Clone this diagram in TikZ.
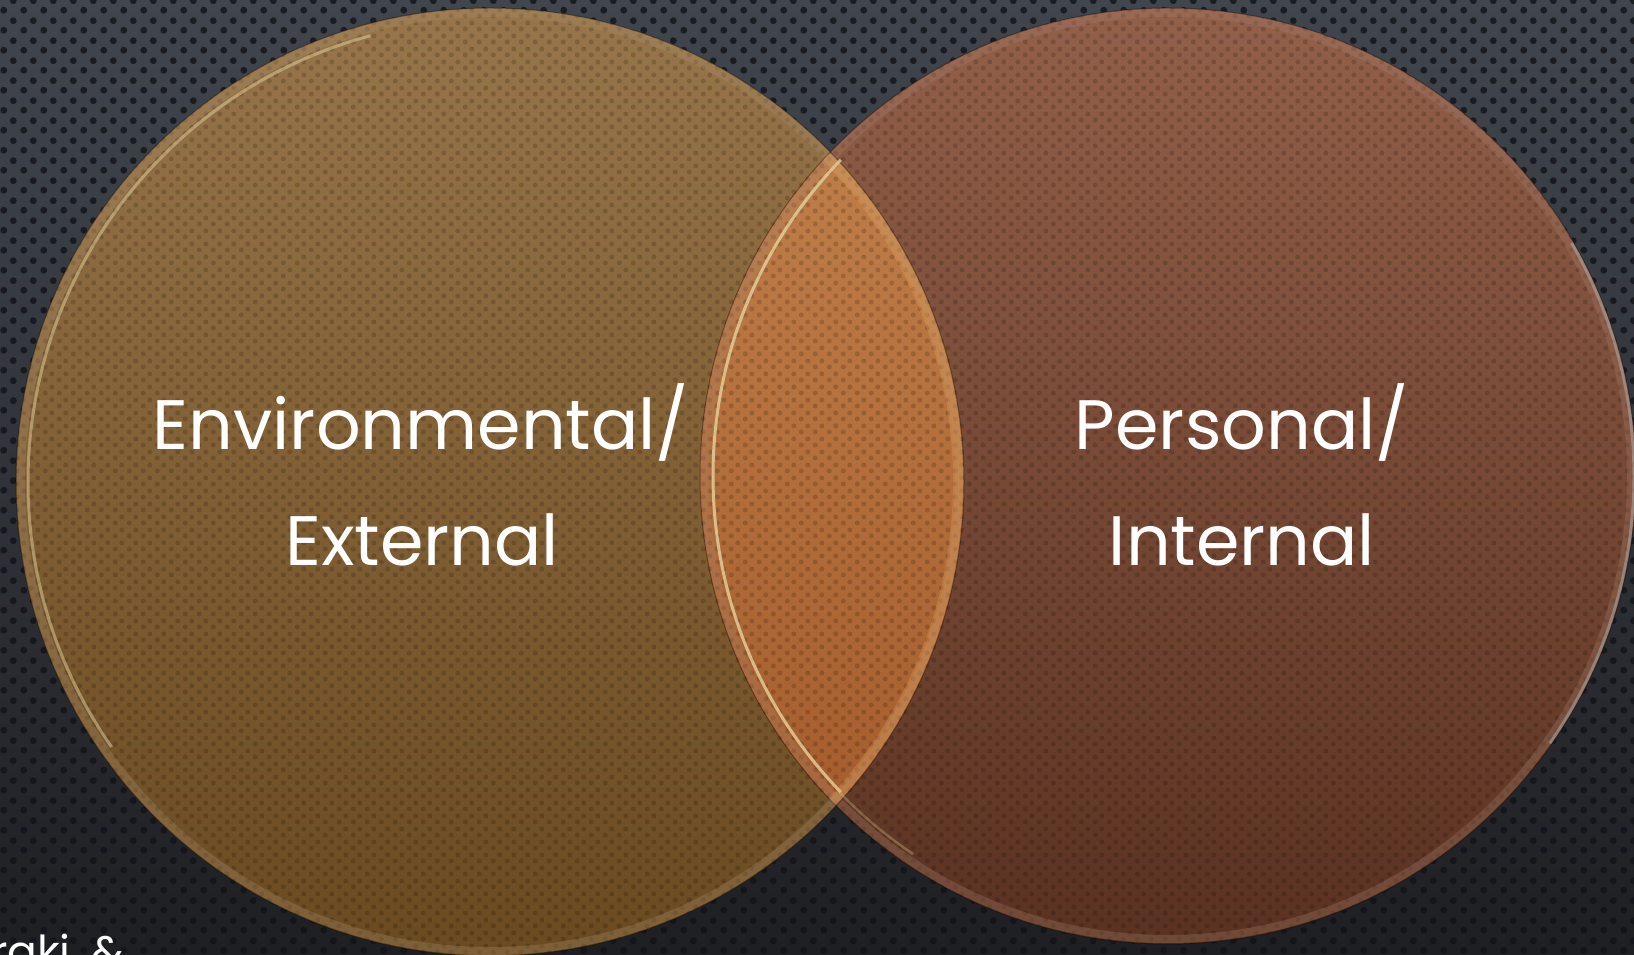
\documentclass[tikz,border=0pt]{standalone}
\usepackage{fontspec}
\setmainfont{Poppins}
\usetikzlibrary{patterns.meta}

\definecolor{bgtop}{HTML}{41464E}
\definecolor{bgbot}{HTML}{1E1F23}
\definecolor{holecol}{HTML}{111318}
\definecolor{envtop}{HTML}{98754A}
\definecolor{envbot}{HTML}{6A4A21}
\definecolor{pertop}{HTML}{93604A}
\definecolor{perbot}{HTML}{5A3221}
\definecolor{mixtop}{HTML}{BF7E49}
\definecolor{mixbot}{HTML}{A65D2D}
\definecolor{cream}{HTML}{E2D3A0}

% perforated metal backdrop
\tikzdeclarepattern{
  name=perforation,
  type=uncolored,
  bounding box={(0pt,0pt) and (20pt,20pt)},
  tile size={(20pt,20pt)},
  code={
    \fill (5pt,5pt) circle (3.6pt);
    \fill (15pt,15pt) circle (3.6pt);
  }
}
% texture inside the discs
\tikzdeclarepattern{
  name=discdots,
  type=uncolored,
  bounding box={(0pt,0pt) and (14pt,13pt)},
  tile size={(14pt,13pt)},
  code={
    \fill (3.5pt,3.25pt) circle (2.7pt);
    \fill (10.5pt,9.75pt) circle (2.7pt);
  }
}

\tikzset{
  lbl/.style={anchor=base, text=white, inner sep=0pt,
    font=\fontsize{70}{84}\selectfont},
  rim/.style={line width=8pt, opacity=0.3},
  texture/.style={pattern=discdots, pattern color=black, fill opacity=0.16},
}

\begin{document}
\begin{tikzpicture}[x=1pt,y=1pt]
  \useasboundingbox (0,0) rectangle (1634,955);
  \clip (0,0) rectangle (1634,955);

  % backdrop
  \shade[top color=bgtop, bottom color=bgbot] (0,0) rectangle (1634,955);
  \fill[pattern=perforation, pattern color=holecol, fill opacity=0.8] (0,0) rectangle (1634,955);

  % centres of the two discs
  \coordinate (cl) at (490,473);
  \coordinate (cr) at (1168,479);

  % the two discs with their texture
  \shade[top color=envtop, bottom color=envbot] (cl) circle (474);
  \shade[top color=pertop, bottom color=perbot] (cr) circle (468);
  \fill[texture] (cl) circle (474);
  \fill[texture] (cr) circle (468);

  % overlap, textured once
  \begin{scope}
    \clip (cl) circle (474);
    \clip (cr) circle (468);
    \shade[top color=mixtop, bottom color=mixbot] (700,146) rectangle (964,800);
    \fill[texture] (700,146) rectangle (964,800);
  \end{scope}

  % bevelled rims
  \draw[rim, draw=envtop!80!white] (cl) circle (469);
  \draw[rim, draw=pertop!80!white] (cr) circle (463);
  \draw[line width=1pt, draw=black, opacity=0.35] (cl) circle (474);
  \draw[line width=1pt, draw=black, opacity=0.35] (cr) circle (468);

  % highlights along the rims
  \draw[line width=3pt, draw=cream, opacity=0.5]
    ([shift={(105:462)}]cl) arc[start angle=105, end angle=215, radius=462];
  \draw[line width=3pt, draw=cream, opacity=0.8]
    ([shift={(136:455)}]cr) arc[start angle=136, end angle=224, radius=455];
  \draw[line width=2.5pt, draw=cream, opacity=0.3]
    ([shift={(224:456)}]cr) arc[start angle=224, end angle=236, radius=456];
  \draw[line width=3pt, draw=gray!60!white, opacity=0.5]
    ([shift={(-35:466)}]cr) arc[start angle=-35, end angle=30, radius=466];
  \begin{scope}
    \clip (cr) circle (468);
    \draw[line width=10pt, draw=orange!60!white, opacity=0.22] (cl) circle (468);
  \end{scope}

  % labels
  \node[lbl] (env1) at (421,505) {Environmental/};
  \node[lbl] (env2) at (422,389) {External};
  \node[lbl] (per1) at (1242,505) {Personal/};
  \node[lbl] (per2) at (1242,389) {Internal};

  % citation running off the lower edge
  \node[anchor=base east, text=white, inner sep=0pt,
    font=\fontsize{44}{48}\selectfont] (cite) at (124,-13) {raki, \&};
\end{tikzpicture}
\end{document}
